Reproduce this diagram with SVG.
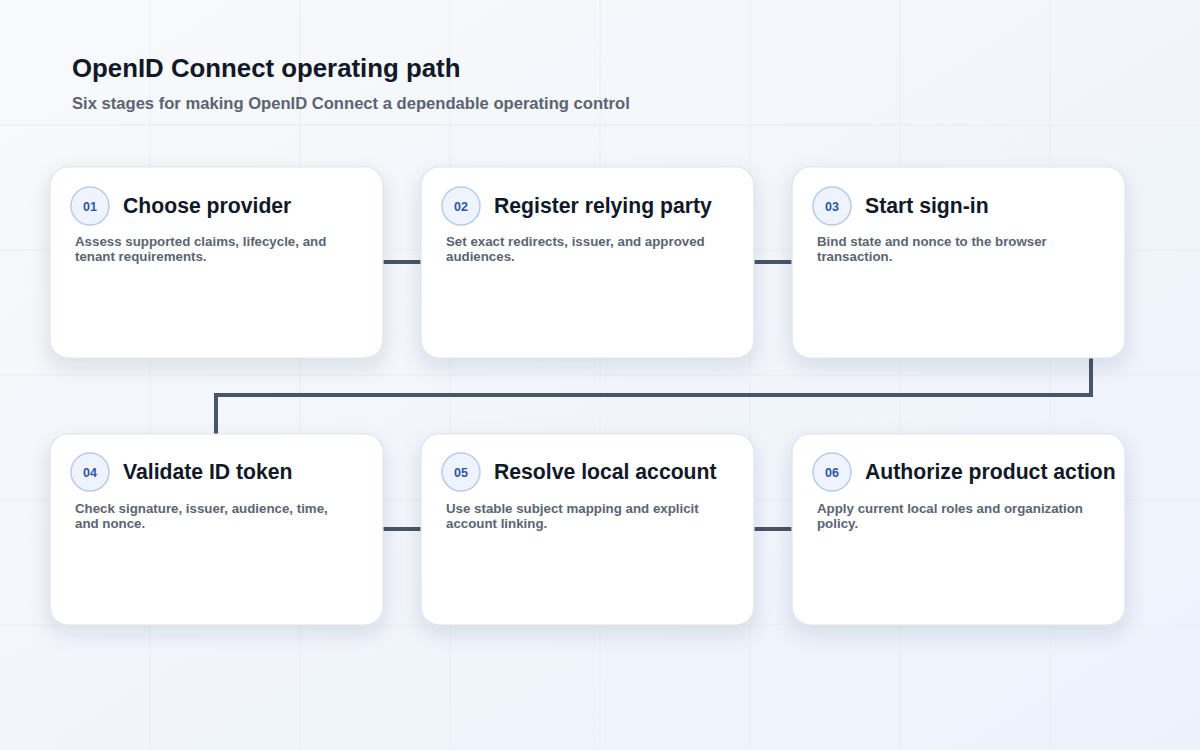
<svg xmlns="http://www.w3.org/2000/svg" width="1200" height="750" viewBox="0 0 1200 750">
  <defs>
    <linearGradient id="bg" x1="0" y1="0" x2="1" y2="1">
      <stop offset="0" stop-color="#f8f9fb"/>
      <stop offset="1" stop-color="#ecf2fc"/>
    </linearGradient>
    <filter id="shadow" x="-20%" y="-20%" width="140%" height="150%">
      <feDropShadow dx="0" dy="8" stdDeviation="10" flood-color="#1e2a50" flood-opacity="0.12"/>
    </filter>
    <style>
      .grid { stroke: #e9ecf3; stroke-width: 1; }
      .card { fill: #ffffff; stroke: #dde3ec; stroke-width: 1.2; filter: url(#shadow); }
      .badge { fill: #eef3fd; stroke: #b9cbe8; stroke-width: 1.5; }
      .num { font-family: "Liberation Sans", Arial, sans-serif; font-weight: 700; font-size: 12.5px; fill: #2f55a4; text-anchor: middle; }
      .title { font-family: "Liberation Sans", Arial, sans-serif; font-weight: 700; font-size: 21.2px; fill: #111827; }
      .desc { font-family: "Liberation Sans", Arial, sans-serif; font-weight: 700; font-size: 13.3px; fill: #5b6472; }
      .conn { fill: none; stroke: #4a5567; stroke-width: 4; }
      .h1 { font-family: "Liberation Sans", Arial, sans-serif; font-weight: 700; font-size: 25.8px; fill: #111827; }
      .h2 { font-family: "Liberation Sans", Arial, sans-serif; font-weight: 700; font-size: 16.6px; fill: #5b6472; }
    </style>
  </defs>

  <rect width="1200" height="750" fill="url(#bg)"/>
  <g id="grid">
    <line class="grid" x1="150" y1="0" x2="150" y2="750"/>
    <line class="grid" x1="300" y1="0" x2="300" y2="750"/>
    <line class="grid" x1="450" y1="0" x2="450" y2="750"/>
    <line class="grid" x1="600" y1="0" x2="600" y2="750"/>
    <line class="grid" x1="750" y1="0" x2="750" y2="750"/>
    <line class="grid" x1="900" y1="0" x2="900" y2="750"/>
    <line class="grid" x1="1050" y1="0" x2="1050" y2="750"/>
    <line class="grid" x1="0" y1="125" x2="1200" y2="125"/>
    <line class="grid" x1="0" y1="250" x2="1200" y2="250"/>
    <line class="grid" x1="0" y1="375" x2="1200" y2="375"/>
    <line class="grid" x1="0" y1="500" x2="1200" y2="500"/>
    <line class="grid" x1="0" y1="625" x2="1200" y2="625"/>
  </g>

  <g id="header">
    <text class="h1" x="72" y="77">OpenID Connect operating path</text>
    <text class="h2" x="72" y="109">Six stages for making OpenID Connect a dependable operating control</text>
  </g>

  <g id="connectors">
    <line class="conn" x1="383" y1="262" x2="421" y2="262"/>
    <line class="conn" x1="754" y1="262" x2="792" y2="262"/>
    <polyline class="conn" points="1091,358 1091,395 216,395 216,434"/>
    <line class="conn" x1="383" y1="529" x2="421" y2="529"/>
    <line class="conn" x1="754" y1="529" x2="792" y2="529"/>
  </g>

  <g id="node-01">
    <rect class="card" x="50" y="167" width="333" height="191" rx="18"/>
    <circle class="badge" cx="90" cy="206" r="19"/>
    <text class="num" x="90" y="210.5">01</text>
    <text class="title" x="123" y="213">Choose provider</text>
    <text class="desc" x="75" y="246">Assess supported claims, lifecycle, and</text>
    <text class="desc" x="75" y="261">tenant requirements.</text>
  </g>

  <g id="node-02">
    <rect class="card" x="421" y="167" width="333" height="191" rx="18"/>
    <circle class="badge" cx="461" cy="206" r="19"/>
    <text class="num" x="461" y="210.5">02</text>
    <text class="title" x="494" y="213">Register relying party</text>
    <text class="desc" x="446" y="246">Set exact redirects, issuer, and approved</text>
    <text class="desc" x="446" y="261">audiences.</text>
  </g>

  <g id="node-03">
    <rect class="card" x="792" y="167" width="333" height="191" rx="18"/>
    <circle class="badge" cx="832" cy="206" r="19"/>
    <text class="num" x="832" y="210.5">03</text>
    <text class="title" x="865" y="213">Start sign-in</text>
    <text class="desc" x="817" y="246">Bind state and nonce to the browser</text>
    <text class="desc" x="817" y="261">transaction.</text>
  </g>

  <g id="node-04">
    <rect class="card" x="50" y="434" width="333" height="191" rx="18"/>
    <circle class="badge" cx="90" cy="472" r="19"/>
    <text class="num" x="90" y="476.5">04</text>
    <text class="title" x="123" y="479">Validate ID token</text>
    <text class="desc" x="75" y="513">Check signature, issuer, audience, time,</text>
    <text class="desc" x="75" y="528">and nonce.</text>
  </g>

  <g id="node-05">
    <rect class="card" x="421" y="434" width="333" height="191" rx="18"/>
    <circle class="badge" cx="461" cy="472" r="19"/>
    <text class="num" x="461" y="476.5">05</text>
    <text class="title" x="494" y="479">Resolve local account</text>
    <text class="desc" x="446" y="513">Use stable subject mapping and explicit</text>
    <text class="desc" x="446" y="528">account linking.</text>
  </g>

  <g id="node-06">
    <rect class="card" x="792" y="434" width="333" height="191" rx="18"/>
    <circle class="badge" cx="832" cy="472" r="19"/>
    <text class="num" x="832" y="476.5">06</text>
    <text class="title" x="865" y="479">Authorize product action</text>
    <text class="desc" x="817" y="513">Apply current local roles and organization</text>
    <text class="desc" x="817" y="528">policy.</text>
  </g>
</svg>
